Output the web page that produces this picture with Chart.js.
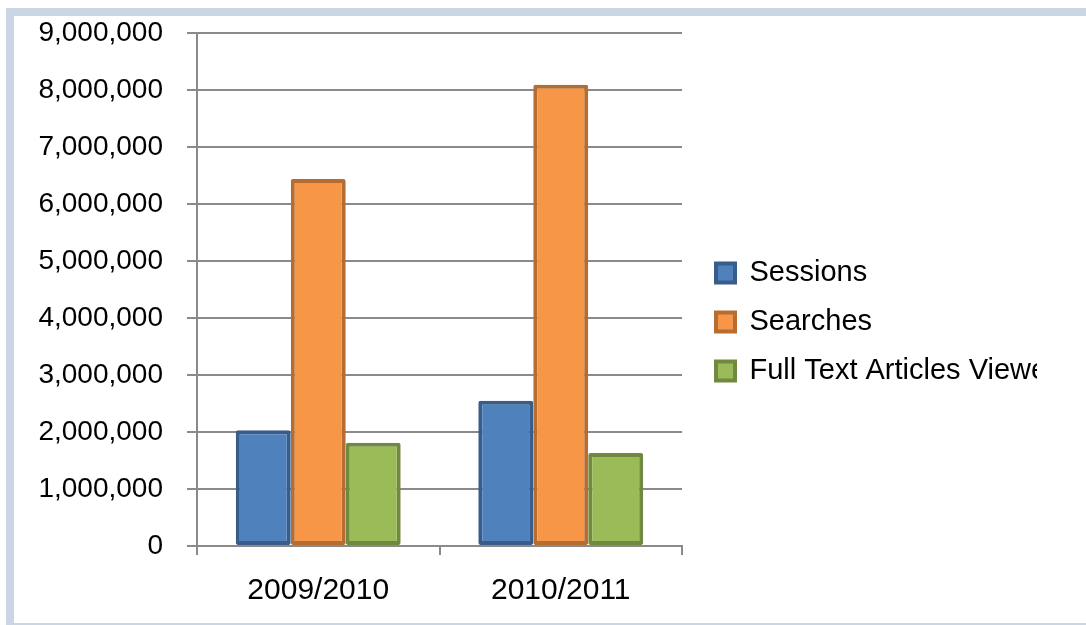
<!DOCTYPE html>
<html lang="en">
<head>
    <meta charset="UTF-8">
    <title>Sessions, Searches and Full Text Articles Viewed</title>
    <script src="https://cdn.jsdelivr.net/npm/chart.js"></script>
    <style>
        body { margin: 0; background: #fff; overflow: hidden; }
        #frame {
            position: absolute; left: 6px; top: 8px; width: 1100px; height: 623px;
            box-sizing: border-box; border: 8px solid #cad6e4; border-right: none;
        }
        #wrap { position: absolute; left: 14px; top: 16px; width: 1023px; height: 607px; }
    </style>
</head>
<body>
<div id="frame"></div>
<div id="wrap"><canvas id="chartCanvas"></canvas></div>

<script>
    // values
    const years = ["2009/2010", "2010/2011"];
    const sessions = [2030000, 2550000];
    const searches = [6440000, 8090000];
    const fullText = [1810000, 1630000];
    const yTicks = [0, 1000000, 2000000, 3000000, 4000000, 5000000, 6000000, 7000000, 8000000, 9000000];

    const fontFamily = "'Liberation Sans', Arial, sans-serif";
    const gridColor = "#8a8a8a";

    const ctx = document.getElementById("chartCanvas").getContext("2d");
    new Chart(ctx, {
        type: "bar",
        data: {
            labels: years,
            datasets: [
                { label: "Sessions", data: sessions, backgroundColor: "#4f81bd", borderColor: "#385d8a" },
                { label: "Searches", data: searches, backgroundColor: "#f79646", borderColor: "#b66d31" },
                { label: "Full Text Articles Viewed", data: fullText, backgroundColor: "#9bbb59", borderColor: "#71893f" }
            ]
        },
        options: {
            responsive: true,
            maintainAspectRatio: false,
            animation: false,
            layout: { padding: { top: 17, bottom: 12, left: 0, right: 0 } },
            datasets: {
                bar: {
                    borderWidth: 4,
                    borderSkipped: false,
                    borderRadius: 2,
                    inflateAmount: 0,
                    categoryPercentage: 0.68,
                    barPercentage: 1
                }
            },
            plugins: {
                tooltip: { enabled: false },
                legend: {
                    position: "right",
                    align: "center",
                    maxWidth: 341,
                    labels: {
                        color: "#000",
                        font: { family: fontFamily, size: 29 },
                        boxWidth: 19,
                        boxHeight: 19,
                        padding: 20
                    }
                }
            },
            scales: {
                x: {
                    offset: true,
                    grid: { offset: true, drawOnChartArea: false, drawTicks: true, tickLength: 9, color: gridColor, lineWidth: 2 },
                    border: { color: gridColor, width: 2 },
                    ticks: { color: "#000", padding: 18, font: { family: fontFamily, size: 30 } },
                    afterFit: s => { s.height = 65; s.paddingLeft = 0; s.paddingRight = 0; }
                },
                y: {
                    min: 0,
                    max: 9000000,
                    afterBuildTicks: s => { s.ticks = yTicks.map(v => ({ value: v })); },
                    grid: { color: gridColor, lineWidth: 2, tickLength: 10 },
                    border: { color: gridColor, width: 2 },
                    ticks: {
                        color: "#000",
                        padding: 24,
                        font: { family: fontFamily, size: 28 },
                        callback: v => v.toLocaleString("en-US")
                    },
                    afterFit: s => { s.width = 183; s.paddingTop = 0; s.paddingBottom = 0; }
                },
                // empty axis that only keeps a gap between plot and legend
                gap: {
                    type: "linear",
                    position: "right",
                    grid: { display: false },
                    border: { display: false },
                    ticks: { display: false },
                    afterFit: s => { s.width = 14; s.paddingTop = 0; s.paddingBottom = 0; }
                }
            }
        }
    });
</script>
</body>
</html>
